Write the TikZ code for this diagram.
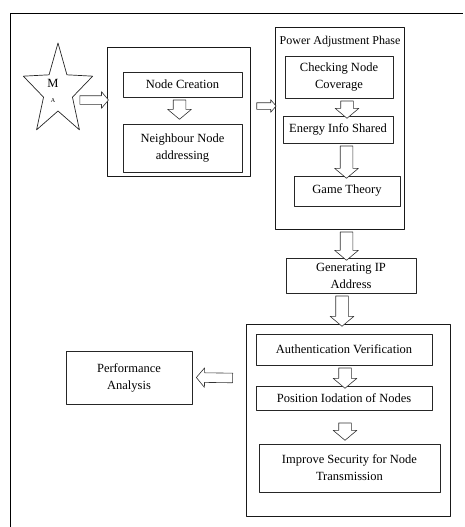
\documentclass[tikz,border=0pt]{standalone}
\usepackage{fontspec}
\setmainfont{Liberation Serif}
\usepackage{tikz}
\usetikzlibrary{
    arrows.meta,
    shapes,
    positioning,
    calc
}
\tikzset{%
    % Specifications for style of nodes:
    base/.style = {
        rectangle, draw=black!85, line width=0.7pt,
        text centered, align=center, fill=white,
        font=\fontsize{12.5}{17}\selectfont, inner sep=0pt
    },
    group/.style = {base, draw=black!90},
    % hollow block arrows between the boxes
    blockarr/.style = {
        single arrow, draw=black!80, fill=white, line width=0.6pt,
        inner xsep=0pt, inner ysep=6pt, minimum width=0pt,
        single arrow head extend=5.5pt, single arrow tip angle=100
    }
}
\newcommand{\blockarrow}[3][]{%
    \path let \p1 = ($(#3)-(#2)$), \n1 = {veclen(\x1,\y1)} in
        (#2) -- node[blockarr, sloped, allow upside down,
                     minimum height=\n1, #1] {} (#3);
}

\begin{document}
\begin{tikzpicture}[x=1pt, y=-1pt, line join=round]
    \useasboundingbox (0,0) rectangle (465,527);
    % frame
    \draw[line width=0.9pt] (10,527) -- (10,13) -- (463,13);

    % mobile agent
    \node[star, star points=5, star point ratio=2.4, draw=black!85, line width=0.7pt,
          minimum size=96pt, inner sep=0pt, xscale=0.76] (ma) at (58,91) {};
    \node[font=\fontsize{12.5}{14}\selectfont] (ma-m) at (53,83) {M};
    \node[font=\fontsize{6}{7}\selectfont] (ma-a) at (53,101) {A};

    % node creation phase
    \node[group, minimum width=143pt, minimum height=129pt] (grp1) at (178.5,111.5) {};
    \node[base, minimum width=119pt, minimum height=25pt] (nc) at (182.5,84.5) {Node Creation};
    \node[base, minimum width=119pt, minimum height=48pt] (nn) at (182.5,148) {Neighbour Node\\addressing};

    % power adjustment phase
    \node[group, minimum width=129pt, minimum height=202pt] (grp2) at (339.5,128) {};
    \node[font=\fontsize{12}{17}\selectfont] (pap) at (340,42) {Power Adjustment Phase};
    \node[base, minimum width=108pt, minimum height=42pt] (cnc) at (339,77) {Checking Node\\Coverage};
    \node[base, minimum width=110pt, minimum height=27pt] (eis) at (338,129.5) {Energy Info Shared};
    \node[base, minimum width=106pt, minimum height=30pt] (gt) at (347,191) {Game Theory};

    \node[base, minimum width=130pt, minimum height=35pt] (gip) at (351,275.5) {Generating IP\\Address};

    % security phase
    \node[group, minimum width=204pt, minimum height=192pt] (grp3) at (348,420) {};
    \node[base, minimum width=176pt, minimum height=31pt] (av) at (344,349.5) {Authentication Verification};
    \node[base, minimum width=176pt, minimum height=24pt] (pio) at (344,398) {Position Iodation of Nodes};
    \node[base, minimum width=181pt, minimum height=48pt] (isn) at (349.5,468) {Improve Security for Node\\Transmission};

    \node[base, minimum width=126pt, minimum height=53pt] (pa) at (129,377.5) {Performance\\Analysis};

    % block arrows
    \blockarrow[inner ysep=4pt, single arrow head extend=4pt]{[xshift=20pt,yshift=-9pt]ma.center}{[yshift=11.5pt]grp1.west}
    \blockarrow[inner ysep=3pt, single arrow head extend=3pt]{[xshift=5pt,yshift=5.5pt]grp1.east}{[yshift=22pt]grp2.west}
    \blockarrow{[xshift=-3pt]nc.south}{[xshift=-3pt,yshift=7pt]nn.north}
    \blockarrow{[xshift=8pt]cnc.south}{[xshift=9pt]eis.north}
    \blockarrow{[xshift=8.5pt]eis.south}{[xshift=-0.5pt]gt.north}
    \blockarrow{[xshift=7pt]grp2.south}{[xshift=-4.5pt]gip.north}
    \blockarrow{[xshift=-9pt]gip.south}{[xshift=-6pt]grp3.north}
    \blockarrow{[xshift=1pt]av.south}{[xshift=1pt]pio.north}
    \blockarrow{[xshift=1pt,yshift=-10pt]pio.south}{[xshift=-4.5pt,yshift=6pt]isn.north}
    \blockarrow[inner ysep=4.5pt, single arrow head extend=5pt]{[xshift=-11pt,yshift=42pt]grp3.west}{[xshift=6pt]pa.east}
\end{tikzpicture}
\end{document}
